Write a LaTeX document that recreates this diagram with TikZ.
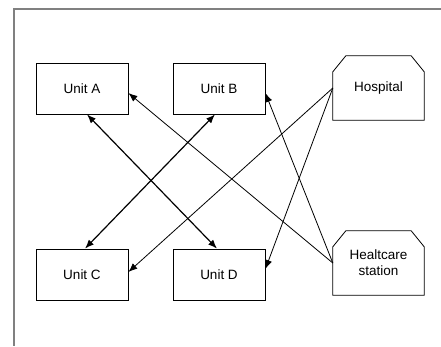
\documentclass[tikz,border=0pt]{standalone}
\usepackage{fontspec}
\setmainfont{Liberation Sans}
\usetikzlibrary{arrows.meta}
\begin{document}
\begin{tikzpicture}[x=1pt,y=-1pt,
  label font/.style={font=\fontsize{13.5}{16}\selectfont},
  unit/.style={draw, line width=0.8pt, minimum width=92pt, minimum height=51pt, inner sep=0pt, label font},
  site/.style={minimum width=91pt, minimum height=64pt, inner sep=0pt, align=center, label font},
  tip/.style={Latex[length=9pt,width=7pt]},
  link/.style={line width=1.2pt, {Latex[length=9pt,width=7pt]}-{Latex[length=9pt,width=7pt]}},
  feed/.style={line width=0.8pt, -{Latex[length=9pt,width=7pt]}},
  frame/.style={draw=gray, line width=1.4pt}]
\useasboundingbox (0,0) rectangle (441,346);
% partial border of the sheet
\draw[frame] (441,9) -- (14,9) -- (14,346);

% units
\node[unit] (A) at (82,88.5) {Unit A};
\node[unit] (B) at (219,88.5) {Unit B};
\node[unit] (C) at (82,274.5) {Unit C};
\node[unit] (D) at (219,274.5) {Unit D};

% sites with chamfered top corners
\node[site] (H) at (378.5,88) {Hospital};
\node[site] (S) at (378.5,263) {Healtcare\\station};
\foreach \n in {H,S}{
  \draw[line width=0.8pt] (\n.south west) -- ([yshift=-16pt]\n.north west)
    -- ([xshift=13pt]\n.north west) -- ([xshift=-13pt]\n.north east)
    -- ([yshift=-16pt]\n.north east) -- (\n.south east) -- cycle;
}

% unit-to-unit links
\draw[link] ([xshift=5pt]A.south) -- ([xshift=-2pt]D.north);
\draw[link] ([xshift=-4pt]B.south) -- ([xshift=3pt]C.north);

% links from the sites
\draw[feed] (H.west) -- ([yshift=2.5pt]C.east);
\draw[feed] (H.west) -- ([yshift=5.5pt]D.east);
\draw[feed] (S.west) -- ([yshift=-4.5pt]A.east);
\draw[feed] (S.west) -- ([yshift=-4.5pt]B.east);
\end{tikzpicture}
\end{document}
